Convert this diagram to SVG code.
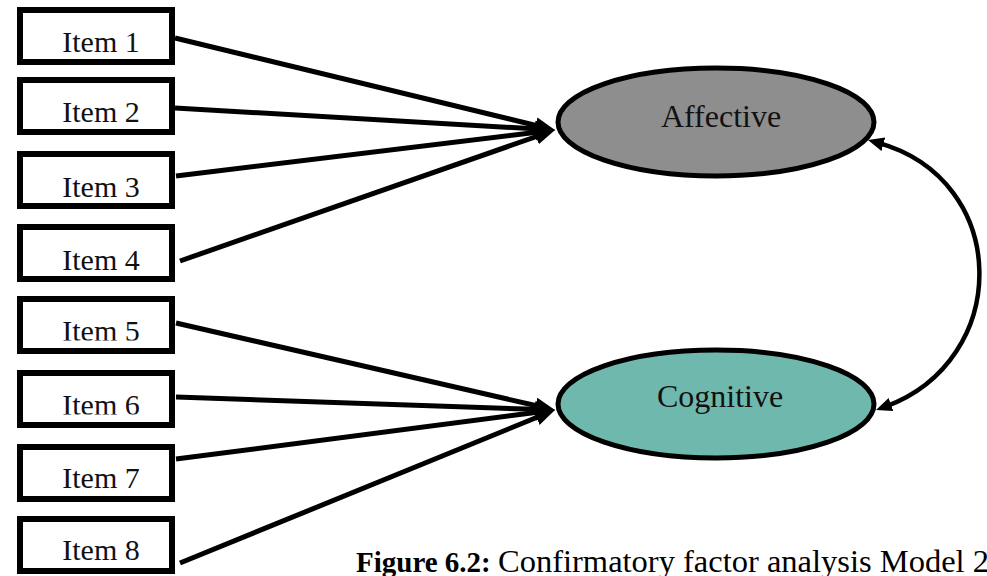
<svg xmlns="http://www.w3.org/2000/svg" width="987" height="576" viewBox="0 0 987 576">
  <style>
    .box { fill: #ffffff; stroke: #000000; stroke-width: 6; }
    .lbl { font-family: "Liberation Serif", "Times New Roman", serif; font-size: 30px; fill: #111111; text-anchor: middle; }
    .factor { stroke: #000000; stroke-width: 5; }
    .flbl { font-family: "Liberation Serif", "Times New Roman", serif; font-size: 32px; fill: #111111; text-anchor: middle; }
    .path { fill: none; stroke: #000000; stroke-width: 5; marker-end: url(#head); }
    .cov { fill: none; stroke: #000000; stroke-width: 4.5; marker-start: url(#headS); marker-end: url(#headS); }
    .cap { font-family: "Liberation Serif", "Times New Roman", serif; fill: #000000; }
  </style>
  <defs>
    <marker id="head" markerUnits="userSpaceOnUse" markerWidth="24" markerHeight="20" refX="8" refY="9" orient="auto">
      <path d="M0,1 L20,9 L0,17 z" fill="#000000"/>
    </marker>
    <marker id="headS" markerUnits="userSpaceOnUse" markerWidth="20" markerHeight="16" refX="6" refY="7" orient="auto-start-reverse">
      <path d="M0,0 L16,7 L0,14 z" fill="#000000"/>
    </marker>
    <!-- inner text areas of the boxes whose labels run past the bottom -->
    <clipPath id="clip5"><rect x="20" y="299" width="152" height="41.5"/></clipPath>
    <clipPath id="clip6"><rect x="20" y="373" width="152" height="41.5"/></clipPath>
  </defs>

  <rect width="987" height="576" fill="#ffffff"/>

  <!-- indicator paths and factor covariance -->
  <g id="connectors">
    <line class="path" x1="175" y1="38" x2="543.3" y2="127.2"/>
    <line class="path" x1="175" y1="108" x2="543.0" y2="129.3"/>
    <line class="path" x1="176" y1="176" x2="543.1" y2="131.4"/>
    <line class="path" x1="180" y1="261" x2="543.7" y2="134.0"/>
    <line class="path" x1="176" y1="323" x2="543.3" y2="407.3"/>
    <line class="path" x1="176" y1="397" x2="543.0" y2="409.6"/>
    <line class="path" x1="176" y1="459" x2="543.1" y2="411.5"/>
    <line class="path" x1="180" y1="563" x2="543.9" y2="414.5"/>
    <path class="cov" d="M877.6,142.7 C1012,180 1012,360 885.4,406.6"/>
  </g>

  <!-- observed items -->
  <g id="item1"><rect class="box" x="20" y="10" width="152" height="52"/><text class="lbl" x="101" y="52">Item 1</text></g>
  <g id="item2"><rect class="box" x="20" y="80" width="152" height="52"/><text class="lbl" x="101" y="122">Item 2</text></g>
  <g id="item3"><rect class="box" x="20" y="154" width="152" height="52"/><text class="lbl" x="101" y="197">Item 3</text></g>
  <g id="item4"><rect class="box" x="20" y="227" width="152" height="52"/><text class="lbl" x="101" y="270">Item 4</text></g>
  <g id="item5"><rect class="box" x="20" y="299" width="152" height="52"/><text class="lbl" x="101" y="341" clip-path="url(#clip5)">Item 5</text></g>
  <g id="item6"><rect class="box" x="20" y="373" width="152" height="52"/><text class="lbl" x="101" y="415" clip-path="url(#clip6)">Item 6</text></g>
  <g id="item7"><rect class="box" x="20" y="447" width="152" height="52"/><text class="lbl" x="101" y="488">Item 7</text></g>
  <g id="item8"><rect class="box" x="20" y="519" width="152" height="52"/><text class="lbl" x="101" y="560">Item 8</text></g>

  <!-- latent factors -->
  <g id="affective">
    <ellipse class="factor" cx="716" cy="122" rx="158" ry="54" fill="#8e8e8e"/>
    <text class="flbl" x="721" y="127">Affective</text>
  </g>
  <g id="cognitive">
    <ellipse class="factor" cx="716" cy="404" rx="158" ry="54" fill="#6fb8ae"/>
    <text class="flbl" x="720" y="407">Cognitive</text>
  </g>

  <!-- caption -->
  <text class="cap" x="356" y="572" font-size="29" font-weight="bold">Figure 6.2:</text>
  <text class="cap" x="498" y="572" font-size="32.5">Confirmatory factor analysis Model 2</text>
</svg>
